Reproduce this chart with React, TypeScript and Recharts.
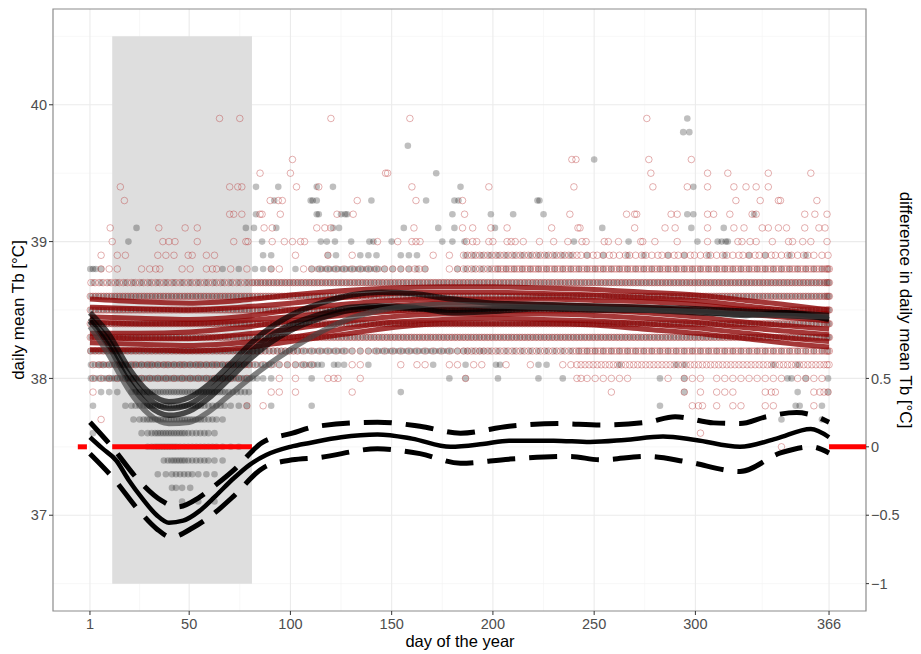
import React from 'react';
import { ComposedChart, XAxis, YAxis, Scatter, Line, ReferenceLine, ReferenceArea } from 'recharts';

const FONT = '"Liberation Sans", Arial, Helvetica, sans-serif';

// ---------- axes ----------
const xTicks = [1, 50, 100, 150, 200, 250, 300, 366];
const xMinorBreaks = [25.5, 75, 125, 175, 225, 275, 333];
const yTicks = [37, 38, 39, 40];
const yMinorBreaks = [36.5, 37.5, 38.5, 39.5, 40.5];
const diffTicks = [-1, -0.5, 0, 0.5];
const xDomain: [number, number] = [-17.25, 384.25];
const yDomain: [number, number] = [36.3, 40.7];
const diffDomain: [number, number] = [-1.2, 3.2];

// shaded winter period
const shadedDays = [12, 81];
const shadedTemps = [36.5, 40.5];

// ---------- scatter: dense rows (counts per 4-day bin, 92 bins) ----------
const Z = '0000000000';
const D1 = '1111111111';
const D2 = '2222222222';
const D3 = '3333333333';

const denseTemps = [37.1, 37.2, 37.3, 37.4, 37.5, 37.6, 37.7, 37.8, 37.9, 38.0, 38.1, 38.2, 38.3, 38.4, 38.5, 38.6, 38.7, 38.8, 38.9];

const denseRed: string[][] = [
  [Z, Z, Z, Z, Z, Z, Z, Z, Z, '00'],
  [Z, Z, Z, Z, Z, Z, Z, Z, Z, '00'],
  [Z, Z, Z, Z, Z, Z, Z, Z, Z, '00'],
  [Z, Z, Z, Z, Z, Z, Z, Z, Z, '00'],
  [Z, Z, Z, Z, Z, Z, Z, Z, '0000010000', '00'],
  [Z, Z, Z, Z, Z, Z, Z, '0000010000', Z, '00'],
  ['0100000000', Z, Z, Z, Z, Z, Z, Z, Z, '00'],
  [Z, '0000000001', '0100000000', Z, Z, Z, Z, '0000120101', '1001100001', '00'],
  ['1000000000', Z, '0011010000', '0010000000', Z, Z, '0000100000', '0001010111', '0001200001', '21'],
  [D1, D1, '0001010001', '2001000000', '0000001000', Z, '2111111000', '0101110111', '1111110111', '10'],
  ['1212121212', '1212121212', '1111111100', '0011000010', '1100110110', '0100100011', D2, D2, D2, '22'],
  [D2, D2, '2222221111', D1, '1111112222', D2, D3, D3, D3, '33'],
  [D3, D3, D3, D3, D3, D3, D3, D3, D3, '33'],
  [D3, D3, D3, D3, D3, D3, D3, D3, D3, '33'],
  [D3, D3, D3, D3, D3, D3, D3, D3, D3, '33'],
  [D3, D3, D3, D3, D3, D3, D3, D3, D3, '33'],
  [D2, D2, D3, D3, D3, D3, D3, D3, D3, '33'],
  ['0111001120', '0110120101', '0011001111', D1, '2100112222', D3, D3, D3, D3, '33'],
  ['0101100011', '1020110000', '0000010001', '0010000000', '0010102222', D2, '2121212121', '2121212121', '2121212121', '11'],
];

const denseGray: string[][] = [
  [Z, '0101010000', Z, Z, Z, Z, Z, Z, Z, '00'],
  [Z, '2110000000', Z, Z, Z, Z, Z, Z, Z, '00'],
  ['0000000011', '2221110000', Z, Z, Z, Z, Z, Z, Z, '00'],
  ['0000000002', '3322211000', Z, Z, Z, Z, Z, Z, Z, '00'],
  ['0000000233', '3222221110', Z, Z, Z, Z, Z, Z, Z, '00'],
  ['1000001233', '3322210000', Z, Z, Z, Z, Z, Z, Z, '00'],
  ['0000012333', '3333221000', Z, Z, Z, Z, Z, Z, '0000010000', '10'],
  ['1000122333', '3333222111', '0010000100', Z, Z, Z, Z, '1000000000', '0000000200', '10'],
  ['0111022333', '3333333222', Z, '0000000010', Z, Z, Z, '0001000000', '0000000100', '01'],
  ['2233333333', D3, '2110000100', Z, '0000101000', '1000010010', Z, '1001000000', '0000002010', '01'],
  ['2333333333', D3, '2221112220', '2100100000', '0010001000', '2000011000', '0000010000', '0011000000', '0000100100', '00'],
  [D3, D3, D2, '2211122222', '2222212121', D1, D1, D1, D1, '11'],
  [D2, D2, D2, D2, D2, D2, D2, D2, D2, '22'],
  [D2, D2, D2, D2, D2, D2, D2, D2, D2, '22'],
  [D2, D2, D2, D2, D2, D2, D2, D2, D2, '22'],
  [D2, D2, D2, D2, D2, D2, D2, D2, D2, '22'],
  [D1, D1, D2, D2, D2, D2, D2, D2, D2, '22'],
  ['3100000000', '0000001010', '1110010122', '2222221111', '1100011111', D1, D1, D1, D1, '11'],
  [Z, Z, '0110000001', '1001110011', '1000001111', D1, '0101001010', '0101001010', '0101001010', '00'],
];

// ---------- scatter: sparse upper rows (individual days) ----------
const sparseTemps = [39.0, 39.1, 39.2, 39.3, 39.4, 39.5, 39.6, 39.7, 39.8, 39.9];
const sparseRed: number[][] = [
  [12, 37, 40, 43, 54, 72, 78, 79, 91, 97, 101, 105, 107, 143, 153, 160, 162, 164, 187, 190, 192, 198, 200, 207, 209, 211, 215, 223, 230, 237, 244, 246, 255, 257, 262, 273, 274, 280, 291, 306, 321, 323, 327, 330, 338, 346, 348, 353, 357, 365],
  [11, 35, 48, 54, 87, 91, 113, 117, 120, 161, 185, 190, 199, 207, 229, 242, 243, 270, 285, 290, 306, 319, 324, 333, 336, 341, 345, 354, 361, 364],
  [70, 72, 76, 85, 86, 95, 123, 131, 186, 238, 266, 270, 271, 288, 291, 306, 309, 317, 328, 330, 354, 359, 365],
  [18, 90, 94, 96, 133, 162, 185, 320, 332, 341, 342, 360],
  [16, 70, 74, 76, 103, 114, 160, 198, 240, 279, 296, 306, 319, 325, 330, 336],
  [85, 100, 147, 148, 278, 306, 316, 336, 357],
  [101, 239, 241, 277, 298],
  [],
  [],
  [65, 75, 120, 159, 276],
];
const sparseGray: number[][] = [
  [20, 86, 115, 118, 122, 130, 139, 141, 150, 175, 180, 186, 240, 267, 301, 311, 313, 315, 316],
  [24, 78, 82, 93, 121, 124, 156, 173, 181, 201, 254, 298, 314],
  [83, 113, 114, 125, 127, 128, 180, 199, 210, 225, 296, 299, 329],
  [92, 110, 111, 113, 140, 167, 181, 183, 222, 223],
  [83, 94, 113, 121, 184, 299],
  [172],
  [250],
  [158],
  [294, 297],
  [296],
];

// ---------- individual smooth curves (dark red) ----------
const redLineDays = [1, 25, 50, 75, 100, 125, 150, 175, 200, 225, 250, 275, 300, 325, 350, 366];
const redLine1 = [38.58, 38.56, 38.55, 38.57, 38.61, 38.64, 38.66, 38.67, 38.67, 38.66, 38.65, 38.63, 38.61, 38.57, 38.53, 38.5];
const redLine2 = [38.52, 38.51, 38.5, 38.52, 38.55, 38.59, 38.62, 38.63, 38.63, 38.62, 38.61, 38.59, 38.57, 38.53, 38.49, 38.47];
const redLine3 = [38.45, 38.44, 38.43, 38.45, 38.5, 38.54, 38.57, 38.58, 38.58, 38.58, 38.57, 38.56, 38.54, 38.5, 38.47, 38.45];
const redLine4 = [38.41, 38.4, 38.4, 38.42, 38.45, 38.49, 38.53, 38.55, 38.55, 38.54, 38.53, 38.52, 38.5, 38.47, 38.44, 38.42];
const redLine5 = [38.33, 38.33, 38.34, 38.37, 38.42, 38.46, 38.49, 38.51, 38.51, 38.51, 38.5, 38.48, 38.45, 38.41, 38.38, 38.36];
const redLine6 = [38.3, 38.29, 38.29, 38.32, 38.36, 38.41, 38.45, 38.47, 38.47, 38.47, 38.46, 38.44, 38.41, 38.37, 38.34, 38.32];
const redLine7 = [38.26, 38.25, 38.24, 38.26, 38.3, 38.36, 38.41, 38.43, 38.44, 38.43, 38.42, 38.4, 38.37, 38.33, 38.29, 38.27];
const redLine8 = [38.21, 38.21, 38.2, 38.22, 38.27, 38.32, 38.37, 38.4, 38.4, 38.4, 38.39, 38.36, 38.33, 38.29, 38.25, 38.23];

// ---------- individual smooth curves (black, winter dip) ----------
const blackLineDays = [1, 10, 20, 30, 40, 50, 60, 70, 80, 90, 100, 115, 130, 145, 160, 180, 200, 225, 250, 275, 300, 325, 345, 366];
const blackLine1 = [38.48, 38.33, 38.08, 37.9, 37.83, 37.86, 37.96, 38.1, 38.25, 38.37, 38.46, 38.55, 38.61, 38.63, 38.62, 38.58, 38.55, 38.54, 38.53, 38.52, 38.51, 38.49, 38.48, 38.46];
const blackLine2 = [38.44, 38.28, 38.03, 37.85, 37.78, 37.81, 37.91, 38.05, 38.19, 38.31, 38.39, 38.47, 38.52, 38.53, 38.52, 38.48, 38.49, 38.51, 38.5, 38.5, 38.49, 38.46, 38.48, 38.43];
const blackLine3 = [38.42, 38.24, 37.98, 37.8, 37.73, 37.76, 37.86, 38.0, 38.14, 38.26, 38.35, 38.44, 38.5, 38.52, 38.51, 38.5, 38.51, 38.52, 38.51, 38.5, 38.48, 38.47, 38.46, 38.44];
const blackLine4 = [38.38, 38.18, 37.92, 37.74, 37.67, 37.68, 37.76, 37.88, 38.0, 38.11, 38.21, 38.34, 38.44, 38.5, 38.53, 38.54, 38.53, 38.52, 38.51, 38.5, 38.49, 38.47, 38.46, 38.45];

// ---------- difference curve (right axis) ----------
const diffMidDays = [1, 7, 14, 20, 27, 34, 40, 47, 55, 63, 72, 80, 88, 100, 110, 125, 143, 160, 179, 195, 208, 230, 248, 265, 284, 300, 322, 340, 357, 366];
const diffMid = [0.07, -0.01, -0.1, -0.24, -0.38, -0.5, -0.555, -0.54, -0.47, -0.36, -0.23, -0.13, -0.06, 0.0, 0.03, 0.07, 0.09, 0.06, 0.0, 0.02, 0.045, 0.045, 0.035, 0.05, 0.075, 0.05, 0.0, 0.06, 0.13, 0.07];
const diffHiDays = [1, 11, 26, 36, 44, 55, 63, 72, 86, 101, 113, 143, 164, 184, 208, 232, 253, 276, 290, 309, 322, 335, 350, 358, 366];
const diffHi = [0.18, 0.015, -0.26, -0.39, -0.44, -0.37, -0.28, -0.17, 0.03, 0.1, 0.15, 0.18, 0.15, 0.1, 0.15, 0.17, 0.16, 0.18, 0.22, 0.175, 0.17, 0.22, 0.25, 0.23, 0.18];
const diffLoDays = [1, 12, 26, 34, 41, 52, 62, 72, 87, 101, 113, 143, 164, 184, 208, 238, 253, 276, 296, 322, 342, 357, 366];
const diffLo = [-0.05, -0.22, -0.48, -0.6, -0.66, -0.59, -0.49, -0.36, -0.15, -0.095, -0.08, -0.015, -0.05, -0.12, -0.09, -0.07, -0.095, -0.07, -0.11, -0.18, -0.045, 0.0, -0.045];

// zero reference segments (visible pieces)
const zeroSegments = [[-5, -0.5], [12, 81], [366, 384.25]];

// ---------- build ----------
type Pt = { day: number; temp: number };

function decodeRows(temps: number[], rows: string[][]): Pt[] {
  const out: Pt[] = [];
  temps.forEach((t, r) => {
    const s = rows[r].join('');
    for (let i = 0; i < s.length; i++) {
      const n = Number(s[i]);
      const start = 1 + 4 * i;
      const len = Math.min(4, 367 - start);
      for (let k = 0; k < n; k++) out.push({ day: start + ((k + 0.5) * len) / n - 0.5, temp: t });
    }
  });
  return out;
}
function sparseRows(temps: number[], rows: number[][]): Pt[] {
  const out: Pt[] = [];
  temps.forEach((t, r) => rows[r].forEach((d) => out.push({ day: d, temp: t })));
  return out;
}

const redPts = [...decodeRows(denseTemps, denseRed), ...sparseRows(sparseTemps, sparseRed)];
const grayPts = [...decodeRows(denseTemps, denseGray), ...sparseRows(sparseTemps, sparseGray)];

const series = (days: number[], vals: number[], key: string) => days.map((d, i) => ({ day: d, [key]: vals[i] }));
const redLines = [redLine1, redLine2, redLine3, redLine4, redLine5, redLine6, redLine7, redLine8].map((v) => series(redLineDays, v, 'temp'));
const blackLines = [blackLine1, blackLine2, blackLine3, blackLine4].map((v) => series(blackLineDays, v, 'temp'));
const midData = series(diffMidDays, diffMid, 'diff');
const hiData = series(diffHiDays, diffHi, 'diff');
const loData = series(diffLoDays, diffLo, 'diff');
const zeroData = zeroSegments.map(([a, b]) => [{ day: a, diff: 0 }, { day: b, diff: 0 }]);

const W = 921;
const H = 654;
const margin = { top: 9, right: 0, bottom: 0, left: 0 };

const fmtDiff = (v: number) => (v < 0 ? '\u2212' + Math.abs(v) : String(v));

function axes(show: boolean) {
  const tick: any = show ? { fill: '#4d4d4d', fontSize: 14.5, fontFamily: FONT } : false;
  const tl: any = show ? { stroke: '#333333', strokeWidth: 1 } : false;
  return [
    <XAxis key="x" dataKey="day" type="number" domain={xDomain} ticks={xTicks} interval={0} allowDataOverflow height={43} tick={tick} tickLine={tl} tickSize={4} tickMargin={4} axisLine={false} />,
    <YAxis key="yl" yAxisId="left" dataKey="temp" type="number" domain={yDomain} ticks={yTicks} interval={0} allowDataOverflow width={53} tick={tick} tickLine={tl} tickSize={4} tickMargin={2} axisLine={false} />,
    <YAxis key="yr" yAxisId="right" orientation="right" dataKey="diff" type="number" domain={diffDomain} ticks={diffTicks} interval={0} allowDataOverflow width={55} tick={tick} tickLine={tl} tickSize={3} tickMargin={2} axisLine={false} tickFormatter={fmtDiff} />,
  ];
}

const RedDot = (p: any) => <circle cx={p.cx} cy={p.cy} r={3.3} fill="none" stroke="#b22222" strokeOpacity={0.4} strokeWidth={0.9} />;
const GrayDot = (p: any) => <circle cx={p.cx} cy={p.cy} r={3.3} fill="#000000" fillOpacity={0.25} />;

const layer: React.CSSProperties = { position: 'absolute', left: 0, top: 0 };

export default function App() {
  return (
    <div style={{ position: 'absolute', left: 0, top: 0, width: W, height: H, background: '#ffffff', fontFamily: FONT }}>
      {/* grid */}
      <div style={layer}>
        <ComposedChart width={W} height={H} margin={margin}>
          {axes(false)}
          {xMinorBreaks.map((x) => (
            <ReferenceLine key={'xm' + x} x={x} yAxisId="left" stroke="#f3f3f3" strokeWidth={0.6} />
          ))}
          {yMinorBreaks.map((y) => (
            <ReferenceLine key={'ym' + y} y={y} yAxisId="left" stroke="#f3f3f3" strokeWidth={0.6} />
          ))}
          {xTicks.map((x) => (
            <ReferenceLine key={'xM' + x} x={x} yAxisId="left" stroke="#ebebeb" strokeWidth={1.1} />
          ))}
          {yTicks.map((y) => (
            <ReferenceLine key={'yM' + y} y={y} yAxisId="left" stroke="#ebebeb" strokeWidth={1.1} />
          ))}
        </ComposedChart>
      </div>
      {/* shaded period + points */}
      <div style={layer}>
        <ComposedChart width={W} height={H} margin={margin}>
          {axes(false)}
          <ReferenceArea x1={shadedDays[0]} x2={shadedDays[1]} y1={shadedTemps[0]} y2={shadedTemps[1]} yAxisId="left" fill="#dedede" fillOpacity={1} stroke="none" />
          <Scatter data={grayPts} yAxisId="left" dataKey="temp" shape={GrayDot} isAnimationActive={false} />
          <Scatter data={redPts} yAxisId="left" dataKey="temp" shape={RedDot} isAnimationActive={false} />
        </ComposedChart>
      </div>
      {/* curves + axes */}
      <div style={layer}>
        <ComposedChart width={W} height={H} margin={margin}>
          {axes(true)}
          {redLines.map((d, i) => (
            <Line key={'r' + i} data={d} yAxisId="left" dataKey="temp" type="monotone" stroke="#8b0000" strokeOpacity={0.78} strokeWidth={5} dot={false} activeDot={false} isAnimationActive={false} />
          ))}
          {blackLines.map((d, i) => (
            <Line key={'b' + i} data={d} yAxisId="left" dataKey="temp" type="monotone" stroke={i === 3 ? '#444444' : '#000000'} strokeOpacity={0.68} strokeWidth={5.5} dot={false} activeDot={false} isAnimationActive={false} />
          ))}
          {zeroData.map((d, i) => (
            <Line key={'z' + i} data={d} yAxisId="right" dataKey="diff" type="linear" stroke="#ff0000" strokeWidth={5} dot={false} activeDot={false} isAnimationActive={false} />
          ))}
          <Line data={hiData} yAxisId="right" dataKey="diff" type="monotone" stroke="#000000" strokeWidth={5} strokeDasharray="28 14" dot={false} activeDot={false} isAnimationActive={false} />
          <Line data={loData} yAxisId="right" dataKey="diff" type="monotone" stroke="#000000" strokeWidth={5} strokeDasharray="28 14" dot={false} activeDot={false} isAnimationActive={false} />
          <Line data={midData} yAxisId="right" dataKey="diff" type="monotone" stroke="#000000" strokeWidth={4.5} dot={false} activeDot={false} isAnimationActive={false} />
          <ReferenceArea x1={xDomain[0]} x2={xDomain[1]} y1={yDomain[0]} y2={yDomain[1]} yAxisId="left" fill="none" stroke="#8c8c8c" strokeWidth={1.2} ifOverflow="visible" />
        </ComposedChart>
      </div>
      {/* axis titles */}
      <svg width={W} height={H} style={{ ...layer, pointerEvents: 'none' }}>
        <text x={460} y={647} textAnchor="middle" fontSize={16.5} fontFamily={FONT} fill="#000000">day of the year</text>
        <text transform="translate(24,310) rotate(-90)" textAnchor="middle" fontSize={17} fontFamily={FONT} fill="#000000">daily mean Tb [°C]</text>
        <text transform="translate(900,310) rotate(90)" textAnchor="middle" fontSize={17} fontFamily={FONT} fill="#000000">difference in daily mean Tb [°C]</text>
      </svg>
    </div>
  );
}
